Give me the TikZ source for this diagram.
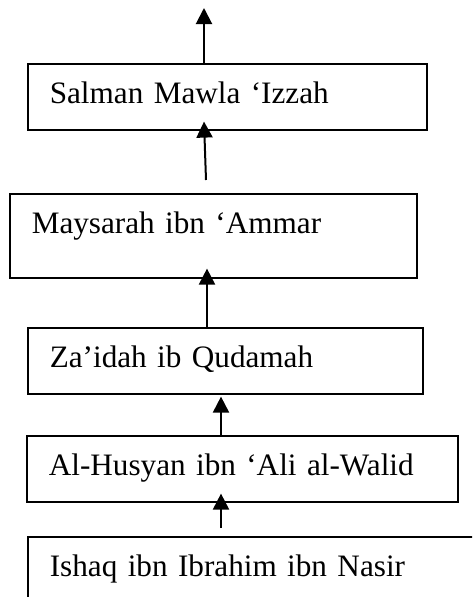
\documentclass[tikz,border=0pt]{standalone}
\usepackage{fontspec}
\setmainfont{Liberation Serif}
\usetikzlibrary{arrows.meta,calc}
\tikzset{
  isnad/.style 2 args={draw, line width=0.6pt, anchor=north west,
    inner xsep=8.25pt, inner ysep=0pt, text width={(#1-44)*0.375pt},
    text height=15pt, text depth={(#2-40)*0.375pt},
    font=\fontsize{11.7}{14}\selectfont},
  link/.style={-{Triangle[length=6pt,width=6pt]}, line width=0.75pt}
}
\begin{document}
\begin{tikzpicture}[x=0.375pt,y=-0.375pt]
\clip (0,0) rectangle (472,597);
\node[isnad={399}{66}] (salman) at (27,63) {Salman Mawla ‘Izzah};
\node[isnad={407}{84}] (maysarah) at (9,193) {Maysarah ibn ‘Ammar};
\node[isnad={395}{66}] (zaidah) at (27,327) {Za’idah ib Qudamah};
\node[isnad={431}{66}] (husyan) at (26,435) {Al-Husyan ibn ‘Ali al-Walid};
\node[isnad={490}{90}] (ishaq) at (27,536) {Ishaq ibn Ibrahim ibn Nasir};
\coordinate (up) at ($(salman.north west)+(177,-55)$);
\draw[link] ($(salman.north west)+(177,0)$) -- (up);
\draw[link] ($(maysarah.north west)+(197,-13)$) -- ($(salman.south west)+(177,-9)$);
\draw[link] ($(zaidah.north west)+(180,0)$) -- ($(maysarah.south west)+(198,-10)$);
\draw[link] ($(husyan.north west)+(195,0)$) -- ($(zaidah.south west)+(194,2)$);
\draw[link] ($(ishaq.north west)+(194,-8)$) -- ($(husyan.south west)+(195,-9)$);
\end{tikzpicture}
\end{document}
